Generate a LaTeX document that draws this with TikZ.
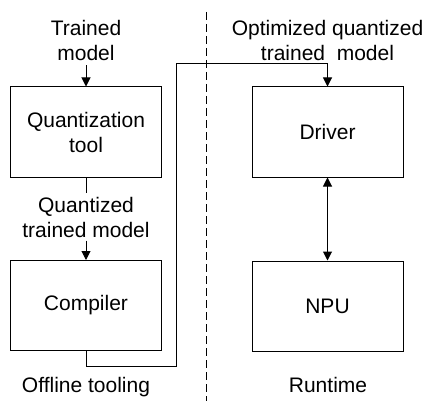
\documentclass[tikz,border=0pt]{standalone}
\usepackage{fontspec}
\setmainfont{Liberation Sans}
\usetikzlibrary{arrows.meta,positioning}

\begin{document}
\begin{tikzpicture}[x=1pt,y=-1pt,line width=1pt,
    block/.style={draw, minimum width=151pt, minimum height=90pt, align=center, text=black},
    label/.style={align=center, inner sep=3pt, text=black},
    arr/.style={-{Triangle[width=9pt,length=9pt]}},
    font=\fontsize{21}{25}\selectfont]
    \useasboundingbox (0,0) rectangle (425,401);

    \node[block] (quant) at (86, 132) {Quantization\\tool};
    \node[block] (compiler) at (86, 305.5) {Compiler};

    \node[block] (driver) at (327.5, 132) {Driver};
    \node[block] (npu) at (327.5, 306) {NPU};

    \node[label,inner sep=4pt] (trained) at (86, 40.5) {Trained\\model};
    \node[label] (qtm) at (86, 217) {Quantized\\trained model};
    \node[label] (otm) at (327.5, 40.5) {Optimized quantized\\trained\ \ model};

    \node[label,anchor=base] (offline) at (86, 392) {Offline tooling};
    \node[label,anchor=base] (runtime) at (328, 392) {Runtime};

    % divider
    \draw[dash pattern=on 8pt off 4pt] (206, 12) -- (206, 401);

    \coordinate (c1) at (176, 366);
    \coordinate (c2) at (176, 64);

    \draw[arr] (trained) -- (quant);
    \draw (quant) -- (qtm);
    \draw[arr] (qtm) -- (compiler);
    \draw[arr] (compiler.south) |- (c1) -- (c2) -| (driver.north);
    \draw[{Triangle[width=9pt,length=9pt]}-{Triangle[width=9pt,length=9pt]}] (driver) -- (npu);
\end{tikzpicture}
\end{document}
